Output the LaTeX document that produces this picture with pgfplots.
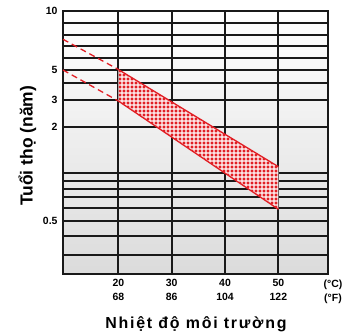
\documentclass[border=0pt]{standalone}
\usepackage{fontspec}
\setmainfont{Liberation Sans}
\usepackage{pgfplots}
\pgfplotsset{compat=1.18}
\usetikzlibrary{patterns}
\definecolor{myred}{RGB}{225,30,36}
\pgfdeclarepatternformonly{redsq}{\pgfpointorigin}{\pgfpoint{4.4bp}{4.4bp}}{\pgfpoint{4.4bp}{4.4bp}}{%
  \pgfpathrectangle{\pgfpoint{0.7bp}{0.7bp}}{\pgfpoint{3bp}{3bp}}\pgfusepath{fill}}
\begin{document}
\begin{tikzpicture}
\path[use as bounding box] (-62.7bp,-61.7bp) rectangle (280.3bp,274.3bp);
\begin{axis}[
  scale only axis, width=265.3bp, height=263.6bp,
  xmin=9.57, xmax=59.3, ymin=0, ymax=263.6,
  xtick={20,30,40,50},
  xticklabels={{20\\68},{30\\86},{40\\104},{50\\122}},
  ytick={19.3,38.3,53.6,66.6,77.3,85.3,93.3,101.6,147.3,174.6,191.6,204.3,216.6,228.3,239.6,251.3,263.6},
  yticklabels={,,0.5,,,,,,2,3,,5,,,,,10},
  grid=major, major grid style={black!90, line width=1.8bp},
  major tick length=0pt,
  axis line style={black!90, line width=2.2bp},
  tick label style={font=\bfseries\fontsize{10.5}{13.6}\selectfont},
  xticklabel style={align=center, anchor=north, inner sep=0pt, yshift=-5bp},
  yticklabel style={anchor=east, inner sep=0pt, xshift=-5bp},
  axis background/.style={top color=white, bottom color=black!14},
  clip=false,
]
\addplot[draw=none, fill=white] coordinates {(20,204.8) (50,107.6) (50,65) (20,173.3)} -- cycle;
\addplot[draw=none, pattern=redsq, pattern color=myred] coordinates {(20,204.8) (50,107.6) (50,65) (20,173.3)} -- cycle;
\addplot[myred, line width=1.3bp] coordinates {(20,204.8) (50,107.6)};
\addplot[myred, line width=1.3bp] coordinates {(20,173.3) (50,65)};
\addplot[myred, line width=1.3bp, dash pattern=on 6bp off 4bp] coordinates {(9.63,235) (20,204.8)};
\addplot[myred, line width=1.3bp, dash pattern=on 6bp off 4bp] coordinates {(9.63,204.3) (20,173.3)};
\end{axis}
\node[font=\bfseries\fontsize{10.5}{12}\selectfont, anchor=base] at (270.3bp,-13.4bp) {(°C)};
\node[font=\bfseries\fontsize{10.5}{12}\selectfont, anchor=base] at (270.3bp,-27bp) {(°F)};
\node[font=\bfseries\fontsize{17.5}{20}\selectfont, rotate=90, anchor=base] at (-30bp,128.5bp) {Tuổi thọ (năm)};
\node[font=\bfseries\fontsize{16}{18}\selectfont\addfontfeature{LetterSpace=11}, anchor=base] at (133.3bp,-54bp) {Nhiệt độ môi trường};
\end{tikzpicture}
\end{document}
